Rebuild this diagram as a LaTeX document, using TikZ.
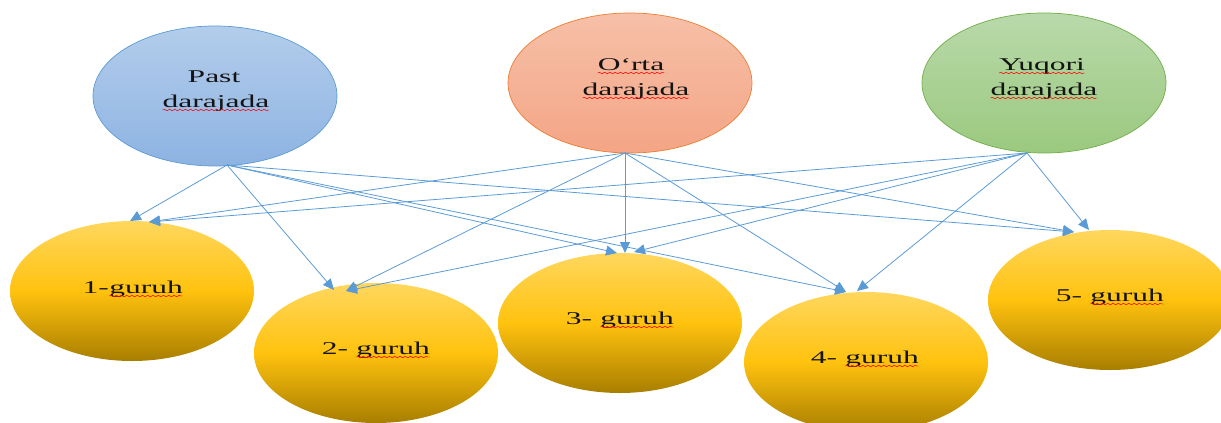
\documentclass[tikz,border=0pt]{standalone}
\usepackage{fontspec}
\usepackage{graphicx}
\setmainfont{Liberation Serif}
\usetikzlibrary{shapes.geometric,arrows.meta,decorations.pathmorphing}
\definecolor{arr}{HTML}{5B9BD5}
\definecolor{txt}{HTML}{141414}
\definecolor{pastT}{HTML}{B3CDEB}
\definecolor{pastB}{HTML}{8DB3E2}
\definecolor{pastL}{HTML}{5B9BD5}
\definecolor{ortaT}{HTML}{F6C0A8}
\definecolor{ortaB}{HTML}{F4A585}
\definecolor{ortaL}{HTML}{ED7D31}
\definecolor{yuqT}{HTML}{B9D9AA}
\definecolor{yuqB}{HTML}{9BC97F}
\definecolor{yuqL}{HTML}{70AD47}
\definecolor{goldT}{HTML}{FFD75E}
\definecolor{goldM}{HTML}{FFC20E}
\definecolor{goldB}{HTML}{A87E00}
\tikzset{
  oval/.style={ellipse, inner sep=0pt, minimum width=244pt, minimum height=140pt},
  lvl/.style={oval, line width=0.7pt},
  grp/.style={oval, top color=goldT, bottom color=goldB, middle color=goldM},
  lbl/.style={anchor=base, inner sep=0pt, text=txt, font=\fontsize{18}{24}\selectfont},
  link/.style={draw=arr, line width=0.8pt, -{Triangle[length=11pt,width=10pt]}},
  spell/.style={draw=red, line width=0.45pt, decorate, decoration={snake,amplitude=0.7pt,segment length=3pt}}
}
\newcommand\sq[1]{\scalebox{1.75}[1]{#1}}
\newcommand\wv[1]{\tikz[baseline=(w.base),x=1pt,y=1pt]{\node[inner sep=0pt,outer sep=0pt,anchor=base,draw=none,fill=none,shape=rectangle](w){#1};\draw[spell]([yshift=-3pt]w.base west)--([yshift=-3pt]w.base east);}}
\begin{document}
\begin{tikzpicture}[x=1pt,y=-1pt]
\useasboundingbox (0,0) rectangle (1221,423);
% top ellipses
\node[lvl, draw=pastL, top color=pastT, bottom color=pastB] (past) at (215,96) {};
\node[lvl, draw=ortaL, top color=ortaT, bottom color=ortaB] (orta) at (630,83) {};
\node[lvl, draw=yuqL, top color=yuqT, bottom color=yuqB] (yuq) at (1044,83) {};
% group ellipses
\node[grp] (g1) at (132,291) {};
\node[grp] (g2) at (376,353) {};
\node[grp] (g3) at (620,323) {};
\node[grp] (g4) at (866,362) {};
\node[grp] (g5) at (1110,300) {};
% texts
\node[lbl] (pastA) at (214,82) {\sq{Past}};
\node[lbl] (pastB) at (216,107) {\sq{\wv{darajada}}};
\node[lbl] (ortaA) at (631,70) {\sq{\wv{O‘rta}}};
\node[lbl] (ortaB) at (636,95) {\sq{\wv{darajada}}};
\node[lbl] (yuqA) at (1042,70) {\sq{\wv{Yuqori}}};
\node[lbl] (yuqB) at (1044,95) {\sq{\wv{darajada}}};
\node[lbl] (t1) at (133,293) {\sq{1-\wv{guruh}}};
\node[lbl] (t2) at (376,354) {\sq{2- \wv{guruh}}};
\node[lbl] (t3) at (620,324) {\sq{3- \wv{guruh}}};
\node[lbl] (t4) at (865,363) {\sq{4- \wv{guruh}}};
\node[lbl] (t5) at (1110,301) {\sq{5- \wv{guruh}}};
% connector start points
\coordinate (pS) at (227,165);
\coordinate (oS) at (625,153);
\coordinate (yS) at (1027,153);
% connector end points
\coordinate (e1a) at (130,221);
\coordinate (e1b) at (149,222);
\coordinate (e2a) at (334,290);
\coordinate (e2b) at (346,291);
\coordinate (e3a) at (617,253);
\coordinate (e3b) at (625,253);
\coordinate (e3c) at (634,252);
\coordinate (e4a) at (846,292);
\coordinate (e4b) at (857,291);
\coordinate (e5a) at (1074,232);
\coordinate (e5b) at (1089,230);
% connectors
\draw[link] (pS) -- (e1a);
\draw[link] (pS) -- (e2a);
\draw[link] (pS) -- (e3a);
\draw[link] (pS) -- (e4a);
\draw[link] (pS) -- (e5a);
\draw[link] (oS) -- (e1b);
\draw[link] (oS) -- (e2b);
\draw[link] (oS) -- (e3b);
\draw[link] (oS) -- (e4a);
\draw[link] (oS) -- (e5a);
\draw[link] (yS) -- (e1b);
\draw[link] (yS) -- (e2b);
\draw[link] (yS) -- (e3c);
\draw[link] (yS) -- (e4b);
\draw[link] (yS) -- (e5b);
\end{tikzpicture}
\end{document}
